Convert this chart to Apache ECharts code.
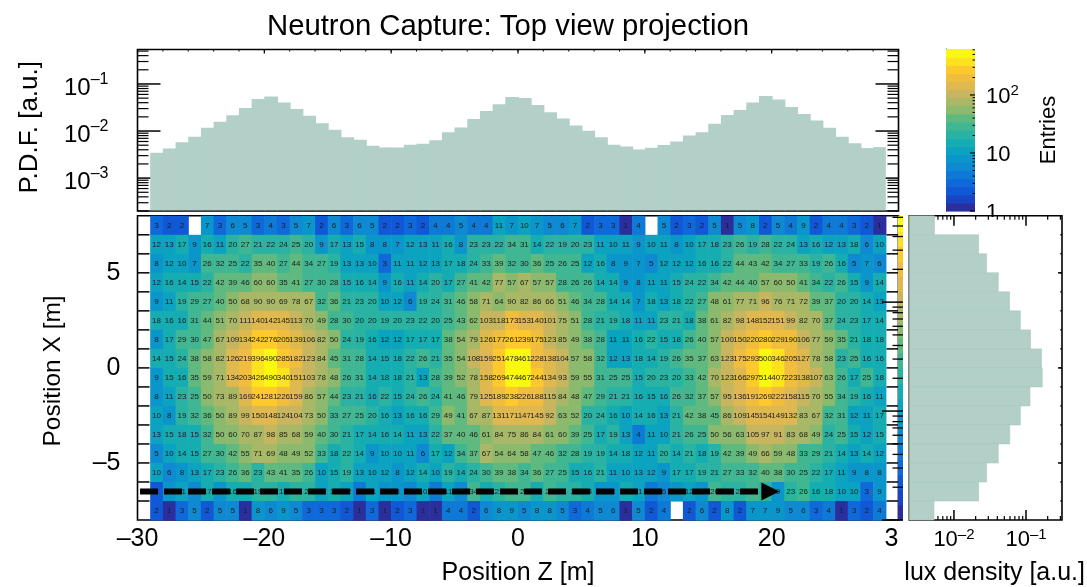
<!DOCTYPE html>
<html><head><meta charset="utf-8">
<style>html,body{margin:0;padding:0;background:#fff}#c{width:1087px;height:587px}</style>
<script src="https://cdn.jsdelivr.net/npm/echarts@6/dist/echarts.min.js"></script>
</head><body><div id="c"></div>
<script>
// ---------- data ----------
const chartTitle = 'Neutron Capture: Top view projection';
const zTicks = [-30,-20,-10,0,10,20,30];

// Top projection, one value per 1 m bin from z = -29
const topPdf = [0.00345,0.00427,0.00581,0.00754,0.0117,0.0157,0.0217,0.0310,0.0481,0.0539,0.0403,0.0295,0.0210,0.0147,0.0106,0.00741,0.00651,0.00486,0.00448,0.00448,
 0.00510,0.00536,0.00640,0.00946,0.0119,0.0181,0.0268,0.0371,0.0531,0.0505,0.0359,0.0251,0.0184,0.0131,0.0101,0.00741,0.00510,0.00470,0.00406,0.00441,
 0.00502,0.00600,0.00804,0.00946,0.0142,0.0220,0.0281,0.0403,0.0557,0.0466,0.0326,0.0231,0.0167,0.0117,0.00754,0.00553,0.00434,0.00455];

// Side projection, one value per 1 m bin, from x = +7.5 down to x = -7.5
const sideFlux = [0.00536,0.0220,0.0284,0.0412,0.0590,0.0834,0.1155,0.164,0.168,0.1135,0.0834,0.0595,0.0412,0.0284,0.0220,0.00528];

// Entries per cell; 0 = empty cell. Rows from x = +7.5 down to x = -7.5
const rowA = [3,2,2,0,7,3,6,5,3,4,3,5,7,2,6,3,6,5,2,2,3,2,4,4,5,4,4,11,7,10,7,5,6,7,2,3,3,1,4,0,5,2,3,2,5,1,5,8,2,5,4,9,2,4,4,3,2,1];
const rowB = [12,13,17,9,16,11,20,27,21,22,24,25,20,9,17,13,15,8,8,7,12,13,11,16,8,23,23,22,34,31,14,22,19,20,23,11,10,11,9,10,11,8,10,17,18,23,26,19,28,22,24,13,16,12,13,18,6,10];
const rowC = [8,12,10,7,26,32,25,22,35,40,27,44,34,27,19,13,13,10,3,11,11,12,13,17,18,24,33,39,32,30,36,25,26,25,12,16,8,9,7,5,12,12,12,16,16,22,44,43,42,34,27,33,19,26,16,5,7,6];
const rowD = [12,16,14,15,22,42,39,46,60,60,35,41,27,30,28,15,16,14,9,16,11,14,20,17,27,41,42,77,57,67,57,57,28,26,26,14,14,9,8,11,11,15,24,22,34,42,44,40,57,60,50,41,34,22,26,15,9,14];
const rowE = [9,11,19,29,27,40,50,68,90,90,69,78,67,32,36,21,23,20,10,12,6,19,24,31,46,58,71,64,90,82,86,66,51,46,34,28,14,14,7,18,13,18,22,27,48,61,77,71,96,76,71,72,39,37,20,20,14,13];
const rowF = [18,16,16,31,44,51,70,111,140,142,145,113,70,49,28,30,20,20,19,20,23,22,20,25,43,62,103,118,173,153,140,101,75,51,28,21,19,18,11,11,23,21,18,38,61,82,98,148,152,151,99,82,70,37,24,23,17,14];
const rowG = [8,17,29,30,47,67,109,134,242,276,205,139,106,82,50,24,19,16,12,12,17,17,17,38,54,79,126,177,261,239,175,123,85,49,38,28,11,11,16,22,15,18,26,40,57,100,150,220,280,229,190,106,77,59,35,21,18,18];
const rowH = [14,15,24,38,58,82,126,219,396,490,285,182,123,84,45,31,28,14,15,18,22,26,21,35,54,108,159,251,478,461,228,138,104,57,58,32,12,13,18,14,19,26,35,37,63,123,175,293,500,346,205,127,78,58,23,25,16,16];
const rowI = [9,15,16,35,59,71,134,203,426,490,340,151,103,78,48,26,31,14,18,18,21,13,28,39,52,78,158,269,474,467,244,134,93,59,55,31,25,25,15,20,23,20,33,42,70,123,166,297,514,407,223,138,107,63,26,17,25,18];
const rowJ = [8,11,23,25,50,73,89,169,241,281,226,159,86,57,44,23,21,16,22,15,24,26,24,41,46,79,125,189,238,226,188,115,84,48,47,29,21,21,16,15,16,26,32,37,57,95,136,191,269,222,158,115,70,55,34,19,16,11];
const rowK = [10,8,19,32,36,50,89,99,150,148,124,104,73,50,33,27,25,20,16,13,16,16,29,49,41,67,87,131,171,147,145,92,63,52,20,24,16,10,14,16,13,21,42,38,45,86,109,145,154,149,132,83,67,32,31,12,11,17];
const rowL = [13,15,18,15,32,50,60,70,87,98,85,68,59,40,30,21,17,14,16,14,11,13,22,37,40,46,61,84,75,86,84,61,60,39,25,17,19,13,4,11,10,21,26,25,50,56,63,105,97,91,83,68,49,24,25,15,12,15];
const rowM = [5,10,14,15,27,30,42,55,71,69,48,49,52,33,18,22,14,9,10,10,11,6,17,12,34,37,67,54,64,58,47,46,32,28,19,19,14,18,12,11,20,14,21,18,19,42,39,49,66,59,48,33,29,21,14,13,14,12];
const rowN = [10,6,8,13,17,23,26,36,23,43,41,35,26,10,15,19,13,10,12,8,12,14,10,19,14,24,30,39,38,34,36,27,25,15,16,21,11,10,13,12,9,17,17,19,21,27,33,32,40,38,30,25,22,17,11,9,8,8];
const rowO = [2,7,11,6,17,8,16,14,19,22,15,19,22,12,17,12,4,11,7,8,6,10,4,11,6,34,17,22,26,25,17,26,21,24,14,8,8,14,11,4,6,8,12,7,26,22,21,27,20,9,23,26,16,18,10,10,3,9];
const rowP = [2,1,3,5,2,5,5,1,8,6,9,5,3,3,3,2,1,3,1,2,3,1,1,4,4,2,6,8,9,5,8,8,5,3,4,5,6,1,5,2,4,0,2,6,2,8,2,7,7,9,5,6,3,4,1,3,2,4];
const cellRows = [rowA,rowB,rowC,rowD,rowE,rowF,rowG,rowH,rowI,rowJ,rowK,rowL,rowM,rowN,rowO,rowP];

// Beam arrow, from z to z at one x
const beamZ = [-29.8, 19.9];
const beamX = -6.5;

// Colour scale, bottom to top, and its range
const paletteColors = ['#2b2f9e','#1a45c2','#1158d6','#1069da','#0f7ad6','#0e89d2','#0a96ca','#0ca3c0','#15adb2','#2ab3a2',
 '#40b792','#60b97f','#8bba6e','#a9b866','#c7b560','#dfb850','#f0bd3f','#fdc92c','#fde21f','#f9f90f'];
const entriesMax = 620;

// ---------- style ----------
const FONT = '"Liberation Sans", Arial, sans-serif';
const FILL = '#b2d0c7';
const BLACK = '#000';
const DASH = '\u2013';
const logDecade = v => { const l = Math.log10(v); return Math.abs(l - Math.round(l)) < 1e-6 ? Math.round(l) : null; };
const supLabel = v => { const d = logDecade(v); return d === null ? '' : '10{sup|' + DASH + Math.abs(d) + '}'; };
const linearLabel = v => String(v).replace('-', DASH);
const logMinors = (from, to) => { const out = []; for (let d = from; d <= to; d++) for (let m = 2; m <= 9; m++) out.push(m * Math.pow(10, d)); return out; };
const range = (a, b, s) => { const o = []; for (let v = a; v <= b; v += s) o.push(v); return o; };
const GL = 137.5, GW = 761;
const SB = 'none';
const richSup = (s, raise) => ({ sup: { fontSize: s, fontFamily: FONT, color: BLACK, verticalAlign: 'top', padding: [0, 0, raise, 0] } });

const colorOf = v => paletteColors[Math.min(19, Math.floor(Math.log10(v) / Math.log10(entriesMax) * 20))];

// ---------- custom series helpers ----------
function ticks(xi, yi, pts, dx, dy, z, w) {
  return { type: 'custom', xAxisIndex: xi, yAxisIndex: yi, data: pts, z: z, silent: true, clip: false, animation: false,
    renderItem: (p, api) => { const a = api.coord([api.value(0), api.value(1)]);
      return { type: 'line', shape: { x1: a[0], y1: a[1], x2: a[0] + dx, y2: a[1] + dy }, style: { stroke: BLACK, lineWidth: w || 1.2 } }; } };
}
const yPts = (x, vs) => vs.map(v => [x, v]);
const xPts = (y, vs) => vs.map(v => [v, y]);

function bandsSeries(xi, yi) {
  return { type: 'custom', xAxisIndex: xi, yAxisIndex: yi, data: paletteColors.map((c, i) => [i]), silent: true, animation: false, z: 3,
    renderItem: (p, api) => { const i = api.value(0);
      const a = api.coord([0, Math.pow(entriesMax, i / 20)]), b = api.coord([1, Math.pow(entriesMax, (i + 1) / 20)]);
      return { type: 'rect', shape: { x: a[0], y: b[1], width: b[0] - a[0], height: a[1] - b[1] + 0.6 }, style: { fill: paletteColors[i] } }; } };
}

const cellData = [];
cellRows.forEach((row, r) => row.forEach((v, c) => { if (v > 0) cellData.push([-29 + c, 7.5 - r, v]); }));

const series = [
  // top panel
  ticks(0, 0, yPts(-30, range(-3, -1, 1).map(d => Math.pow(10, d))), 23, 0, 1, 1.5),
  ticks(0, 0, yPts(-30, logMinors(-4, -1).filter(v => v >= 2e-4 && v <= 0.54)), 11, 0, 1),
  ticks(0, 0, yPts(30, range(-3, -1, 1).map(d => Math.pow(10, d))), -23, 0, 1, 1.5),
  ticks(0, 0, yPts(30, logMinors(-4, -1).filter(v => v >= 2e-4 && v <= 0.54)), -11, 0, 1),
  ticks(0, 0, xPts(0.54, range(-30, 30, 10)), 0, 4, 1, 1.2),
  ticks(0, 0, xPts(0.54, range(-30, 30, 2)), 0, 2, 1, 1),
  { type: 'custom', name: 'Top projection', xAxisIndex: 0, yAxisIndex: 0, data: topPdf.map((v, i) => [-29 + i, v]), z: 3, silent: true, animation: false,
    renderItem: (p, api) => { const a = api.coord([api.value(0), api.value(1)]), b = api.coord([api.value(0) + 1, 2e-4]);
      const last = p.dataIndex === topPdf.length - 1;
      return { type: 'rect', shape: { x: a[0], y: a[1], width: b[0] - a[0] + (last ? 0 : 1), height: b[1] - a[1] - 0.7 }, style: { fill: FILL } }; } },
  // main panel
  ticks(1, 1, yPts(-30, range(-7, 7, 1)), 12, 0, 1, 1.5),
  ticks(1, 1, yPts(30, range(-7, 7, 1)), -12, 0, 1, 1.5),
  { type: 'custom', name: 'Entries per cell', xAxisIndex: 1, yAxisIndex: 1, data: cellData, z: 3, silent: true, animation: false,
    renderItem: (p, api) => { const x = api.value(0), y = api.value(1), v = api.value(2);
      const a = api.coord([x, y + 0.5]), b = api.coord([x + 1, y - 0.5]);
      return { type: 'group', children: [
        { type: 'rect', shape: { x: a[0], y: a[1], width: b[0] - a[0] + 0.6, height: b[1] - a[1] + 0.6 }, style: { fill: colorOf(v) } },
        { type: 'text', z2: 5, style: { x: (a[0] + b[0]) / 2, y: (a[1] + b[1]) / 2, text: String(v), fill: '#1c1c1c', font: '8px ' + FONT, align: 'center', verticalAlign: 'middle' } }
      ] }; } },
  { type: 'line', name: 'Beam', xAxisIndex: 1, yAxisIndex: 1, z: 5, silent: true, animation: false, showSymbol: true, showAllSymbol: true, clip: false,
    lineStyle: { color: BLACK, width: 6, type: [18, 6] }, itemStyle: { color: BLACK },
    data: [{ value: [beamZ[0], beamX], symbol: 'none' }, { value: [beamZ[1], beamX], symbol: 'triangle', symbolSize: [18, 18], symbolRotate: -90 }] },
  // side panel
  ticks(2, 2, xPts(-8, [0.01, 0.1]), 0, -10, 1, 1.5),
  ticks(2, 2, xPts(-8, logMinors(-3, -1).filter(v => v >= 0.0024 && v <= 0.316)), 0, -4, 1),
  ticks(2, 2, xPts(8, [0.01, 0.1]), 0, 10, 1, 1.5),
  ticks(2, 2, xPts(8, logMinors(-3, -1).filter(v => v >= 0.0024 && v <= 0.316)), 0, 4, 1),
  ticks(2, 2, yPts(0.316, [-5, 0, 5]), -4, 0, 1, 1.5),
  ticks(2, 2, yPts(0.316, range(-7, 7, 1)), -2, 0, 1, 1),
  { type: 'custom', name: 'Side projection', xAxisIndex: 2, yAxisIndex: 2, data: sideFlux.map((v, i) => [v, 7.5 - i]), z: 3, silent: true, animation: false,
    renderItem: (p, api) => { const a = api.coord([0.0024, api.value(1) + 0.5]), b = api.coord([api.value(0), api.value(1) - 0.5]);
      return { type: 'rect', shape: { x: a[0], y: a[1], width: b[0] - a[0], height: b[1] - a[1] }, style: { fill: FILL, stroke: '#a9c8be', lineWidth: 0.6 } }; } },
  // colour bar
  bandsSeries(3, 3),
  ticks(3, 3, yPts(1, [1, 10, 100]), -5, 0, 5, 1.2),
  ticks(3, 3, yPts(1, logMinors(0, 2).filter(v => v <= entriesMax)), -2.5, 0, 5, 1),
  // palette strip at the right of the main panel
  bandsSeries(4, 4),
  ticks(4, 4, yPts(1, [1, 10, 100]), -21, 0, 6, 1.5),
  ticks(4, 4, yPts(1, logMinors(0, 2).filter(v => v <= entriesMax)), -10.5, 0, 6, 1.3)
];

const nameStyle = s => ({ fontSize: s, color: BLACK, fontFamily: FONT });
const option = {
  backgroundColor: '#fff', animation: false,
  textStyle: { fontFamily: FONT, color: BLACK },
  title: { text: chartTitle, left: 503, top: 7, textAlign: 'center', textStyle: { fontFamily: FONT, fontSize: 29.3, fontWeight: 'normal', color: BLACK } },
  grid: [
    { left: GL, width: GW, top: 49.5, height: 161.5, show: true, borderColor: BLACK, borderWidth: 1.6, backgroundColor: '#fff', outerBoundsMode: SB },
    { left: GL, width: GW, top: 215.8, height: 304.2, show: true, borderColor: BLACK, borderWidth: 1.6, backgroundColor: '#fff', outerBoundsMode: SB },
    { left: 909.3, width: 152.7, top: 215.8, height: 304.2, show: true, borderColor: BLACK, borderWidth: 1.6, backgroundColor: '#fff', outerBoundsMode: SB },
    { left: 946, width: 29, top: 49, height: 162, outerBoundsMode: SB },
    { left: 898, width: 5, top: 215.8, height: 304.2, outerBoundsMode: SB }
  ],
  xAxis: [
    { gridIndex: 0, type: 'value', min: -30, max: 30, interval: 10, axisLabel: { show: false }, axisTick: { show: false }, axisLine: { show: false }, splitLine: { show: false } },
    { gridIndex: 1, type: 'value', min: -30, max: 30, interval: 10, axisLabel: { fontSize: 25, margin: 7, color: BLACK, fontFamily: FONT, formatter: linearLabel, customValues: zTicks, hideOverlap: false }, axisTick: { show: false }, axisLine: { show: false }, splitLine: { show: false },
      name: 'Position Z [m]', nameLocation: 'middle', nameGap: 41, nameMoveOverlap: false, nameTextStyle: nameStyle(25) },
    { gridIndex: 2, type: 'log', logBase: 10, min: 0.0024, max: 0.316, axisLabel: { fontSize: 22, margin: 7, color: BLACK, fontFamily: FONT, formatter: supLabel, rich: richSup(15, 11), hideOverlap: false, showMinLabel: true, showMaxLabel: true }, axisTick: { show: false }, axisLine: { show: false }, splitLine: { show: false },
      name: 'lux density [a.u.]', nameLocation: 'middle', nameGap: 41, nameMoveOverlap: false, nameTextStyle: Object.assign(nameStyle(25), { padding: [0, 0, 0, 18] }) },
    { gridIndex: 3, type: 'value', min: 0, max: 1, show: false },
    { gridIndex: 4, type: 'value', min: 0, max: 1, show: false }
  ],
  yAxis: [
    { gridIndex: 0, type: 'log', logBase: 10, min: 2e-4, max: 0.54, axisLabel: { fontSize: 24, margin: 29, padding: [9, 0, 0, 0], color: BLACK, fontFamily: FONT, formatter: supLabel, rich: richSup(16, 18), hideOverlap: false }, axisTick: { show: false }, axisLine: { show: false }, splitLine: { show: false },
      name: 'P.D.F. [a.u.]', nameLocation: 'middle', nameRotate: 90, nameGap: 95, nameMoveOverlap: false, nameTextStyle: Object.assign(nameStyle(26), { padding: [0, 0, 0, 6] }) },
    { gridIndex: 1, type: 'value', min: -8, max: 8, interval: 1, axisLabel: { fontSize: 25, margin: 17, color: BLACK, fontFamily: FONT, formatter: v => v % 5 === 0 ? linearLabel(v) : '', hideOverlap: false }, axisTick: { show: false }, axisLine: { show: false }, splitLine: { show: false },
      name: 'Position X [m]', nameLocation: 'middle', nameRotate: 90, nameGap: 72, nameMoveOverlap: false, nameTextStyle: Object.assign(nameStyle(24.5), { padding: [0, 6, 0, 0] }) },
    { gridIndex: 2, type: 'value', min: -8, max: 8, interval: 1, axisLabel: { show: false }, axisTick: { show: false }, axisLine: { show: false }, splitLine: { show: false } },
    { gridIndex: 3, type: 'log', logBase: 10, min: 1, max: entriesMax, position: 'right', axisLabel: { fontSize: 22, margin: 11, padding: [4, 0, 0, 0], color: BLACK, fontFamily: FONT, hideOverlap: false, rich: richSup(15, 13),
        formatter: v => { const d = logDecade(v); return d === null ? '' : d === 0 ? '1' : d === 1 ? '10' : '10{sup|' + d + '}'; } },
      axisTick: { show: false }, axisLine: { show: true, lineStyle: { color: '#222', width: 1 } }, splitLine: { show: false },
      name: 'Entries', nameLocation: 'middle', nameRotate: 90, nameGap: 63, nameMoveOverlap: false, nameTextStyle: nameStyle(22) },
    { gridIndex: 4, type: 'log', logBase: 10, min: 1, max: entriesMax, position: 'right', axisLabel: { show: false }, axisTick: { show: false }, axisLine: { show: true, lineStyle: { color: '#222', width: 1.2 } }, splitLine: { show: false } }
  ],
  graphic: [
    { type: 'rect', z: 1, silent: true, shape: { x: 899, y: 525, width: 14, height: 30 }, style: { fill: '#fff' } },
    { type: 'rect', z: 1, silent: true, shape: { x: 984, y: 217, width: 16, height: 8 }, style: { fill: '#fff' } }
  ],
  series: series
};
const chart = echarts.init(document.getElementById('c'), null, { renderer: 'canvas' });
chart.setOption(option);
</script></body></html>
